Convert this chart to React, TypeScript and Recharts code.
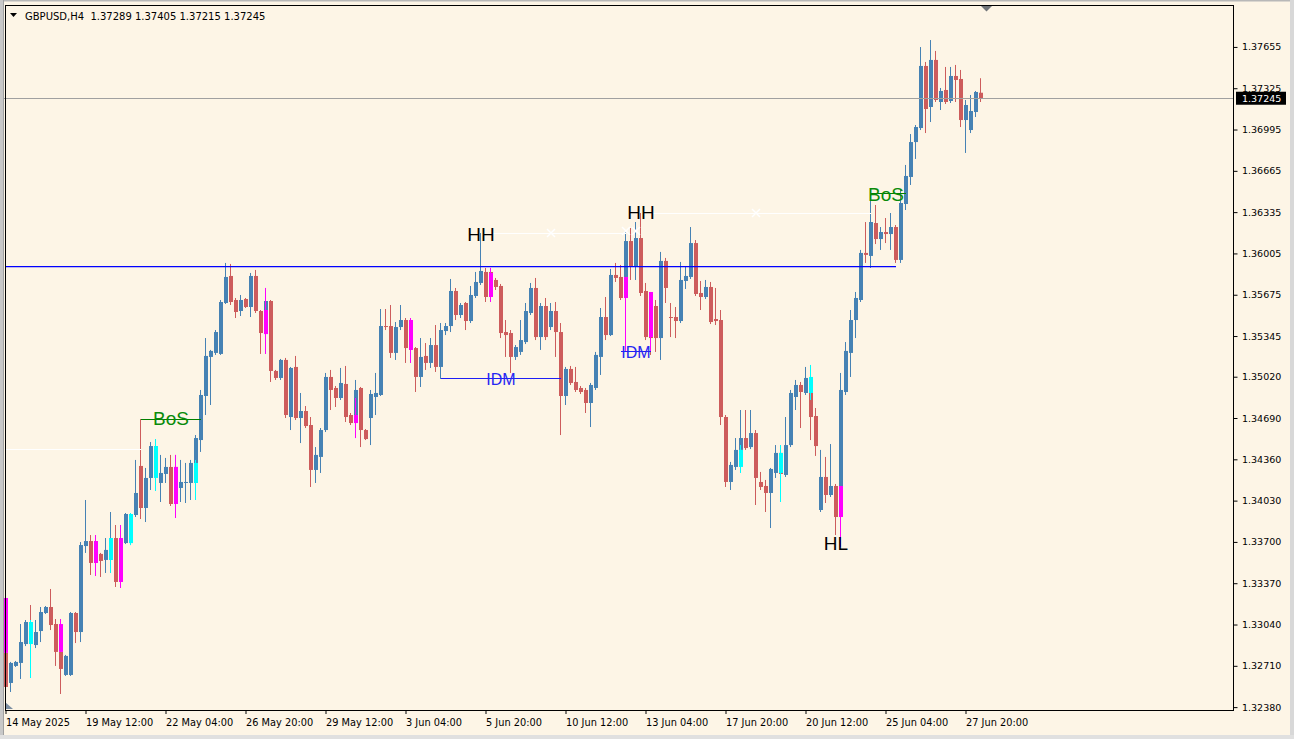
import React from 'react';
import { ComposedChart, Bar, XAxis, YAxis, ReferenceLine, ReferenceDot } from 'recharts';

const W = 1294;
const H = 739;
const BG = '#FDF5E6';
const BULL = '#4682B4';
const BEAR = '#CD5C5C';
const SUPPLY = '#FF00FF';
const DEMAND = '#00FFFF';
const FONT = '"DejaVu Sans", Verdana, sans-serif';
const TEXT_FONT = '"Liberation Sans", Arial, sans-serif';

const opens = [
  1.32813, 1.32573, 1.32709, 1.32733, 1.32884, 1.33036, 1.32876, 1.32988, 1.33132, 1.33180,
  1.33044, 1.32821, 1.32637, 1.32637, 1.33132, 1.32980, 1.33667, 1.33707, 1.33707, 1.33604,
  1.33556, 1.33556, 1.33731, 1.33731, 1.33691, 1.33691, 1.33915, 1.34307, 1.33971, 1.34211,
  1.34466, 1.34171, 1.34243, 1.34299, 1.34299, 1.34131, 1.34171, 1.34171, 1.34171, 1.34514,
  1.34866, 1.35178, 1.35210, 1.35202, 1.35609, 1.35825, 1.35633, 1.35545, 1.35641, 1.35577,
  1.35825, 1.35545, 1.35361, 1.35625, 1.35066, 1.35010, 1.35154, 1.34698, 1.35098, 1.34690,
  1.34746, 1.34634, 1.34275, 1.34379, 1.34594, 1.35018, 1.34930, 1.34850, 1.34962, 1.34714,
  1.34650, 1.34930, 1.34594, 1.34690, 1.34858, 1.34874, 1.35425, 1.35425, 1.35210, 1.35417,
  1.35473, 1.35473, 1.35249, 1.35018, 1.35186, 1.35130, 1.35273, 1.35098, 1.35385, 1.35425,
  1.35705, 1.35513, 1.35609, 1.35465, 1.35665, 1.35769, 1.35857, 1.35857, 1.35793, 1.35745,
  1.35377, 1.35369, 1.35178, 1.35218, 1.35297, 1.35529, 1.35729, 1.35337, 1.35585, 1.35417,
  1.35545, 1.35377, 1.34866, 1.35082, 1.34978, 1.34930, 1.34914, 1.34810, 1.34930, 1.35178,
  1.35497, 1.35353, 1.35833, 1.35817, 1.35817, 1.36104, 1.35897, 1.36128, 1.35705, 1.35577,
  1.35585, 1.35329, 1.35945, 1.35497, 1.35497, 1.35465, 1.35785, 1.35817, 1.36088, 1.35689,
  1.35657, 1.35737, 1.35481, 1.35473, 1.34698, 1.34179, 1.34299, 1.34435, 1.34530, 1.34458,
  1.34570, 1.34179, 1.34147, 1.34091, 1.34251, 1.34411, 1.34235, 1.34474, 1.34858, 1.34954,
  1.34890, 1.35010, 1.34706, 1.33955, 1.34219, 1.34075, 1.34147, 1.33915, 1.34898, 1.35210,
  1.35473, 1.35633, 1.36009, 1.35985, 1.36248, 1.36120, 1.36176, 1.36160, 1.36216, 1.35953,
  1.36400, 1.36616, 1.36895, 1.37007, 1.37503, 1.37175, 1.37551, 1.37215, 1.37311, 1.37223,
  1.37423, 1.37399, 1.37071, 1.36991, 1.37135, 1.37289,
];

const highs = [
  1.32836, 1.32741, 1.32749, 1.33044, 1.33076, 1.33196, 1.33076, 1.33180, 1.33188, 1.33324,
  1.33084, 1.32836, 1.32797, 1.33140, 1.33140, 1.33699, 1.34035, 1.33755, 1.33755, 1.33612,
  1.33731, 1.33939, 1.33835, 1.33835, 1.33931, 1.33931, 1.34355, 1.34682, 1.34291, 1.34498,
  1.34522, 1.34395, 1.34371, 1.34395, 1.34395, 1.34355, 1.34331, 1.34355, 1.34554, 1.34914,
  1.35329, 1.35234, 1.35393, 1.35633, 1.35929, 1.35921, 1.35649, 1.35673, 1.35649, 1.35849,
  1.35873, 1.35553, 1.35729, 1.35633, 1.35074, 1.35162, 1.35170, 1.35098, 1.35186, 1.34890,
  1.34786, 1.34698, 1.34458, 1.34610, 1.35050, 1.35074, 1.34946, 1.35090, 1.35106, 1.34730,
  1.34994, 1.34938, 1.34602, 1.34914, 1.35050, 1.35561, 1.35561, 1.35593, 1.35457, 1.35593,
  1.35489, 1.35489, 1.35257, 1.35329, 1.35289, 1.35329, 1.35433, 1.35449, 1.35449, 1.35801,
  1.35729, 1.35609, 1.35617, 1.35745, 1.35857, 1.36168, 1.35889, 1.35889, 1.35809, 1.35761,
  1.35473, 1.35393, 1.35273, 1.35473, 1.35609, 1.35769, 1.35809, 1.35609, 1.35649, 1.35609,
  1.35617, 1.35449, 1.35098, 1.35106, 1.35098, 1.34946, 1.34930, 1.34970, 1.35218, 1.35569,
  1.35657, 1.35881, 1.35929, 1.35913, 1.36176, 1.36208, 1.36256, 1.36328, 1.35769, 1.35633,
  1.35633, 1.36017, 1.35969, 1.35609, 1.35577, 1.35937, 1.35897, 1.36216, 1.36112, 1.35785,
  1.35793, 1.35777, 1.35729, 1.35553, 1.34714, 1.34339, 1.34530, 1.34754, 1.34754, 1.34754,
  1.34594, 1.34259, 1.34195, 1.34291, 1.34474, 1.34474, 1.34698, 1.34914, 1.34994, 1.34978,
  1.35098, 1.35098, 1.34770, 1.34435, 1.34379, 1.34482, 1.34163, 1.35050, 1.35297, 1.35553,
  1.35697, 1.36033, 1.36256, 1.36432, 1.36392, 1.36216, 1.36288, 1.36328, 1.36232, 1.36512,
  1.36712, 1.36959, 1.37031, 1.37654, 1.37535, 1.37710, 1.37623, 1.37327, 1.37495, 1.37495,
  1.37511, 1.37471, 1.37231, 1.37271, 1.37303, 1.37405,
];

const lows = [
  1.32517, 1.32501, 1.32701, 1.32605, 1.32868, 1.32613, 1.32852, 1.32900, 1.33124, 1.32996,
  1.32709, 1.32485, 1.32629, 1.32629, 1.32892, 1.32900, 1.33612, 1.33436, 1.33428, 1.33420,
  1.33452, 1.33452, 1.33340, 1.33332, 1.33683, 1.33675, 1.33899, 1.33883, 1.33859, 1.34115,
  1.34107, 1.34019, 1.34171, 1.33987, 1.33891, 1.34019, 1.34011, 1.34035, 1.34035, 1.34419,
  1.34714, 1.34794, 1.35194, 1.35194, 1.35601, 1.35593, 1.35489, 1.35505, 1.35569, 1.35497,
  1.35529, 1.35202, 1.35202, 1.34978, 1.34994, 1.34994, 1.34690, 1.34594, 1.34674, 1.34490,
  1.34610, 1.34139, 1.34171, 1.34251, 1.34578, 1.34754, 1.34778, 1.34834, 1.34658, 1.34634,
  1.34530, 1.34458, 1.34514, 1.34474, 1.34714, 1.34866, 1.35393, 1.35170, 1.35154, 1.35393,
  1.35130, 1.35130, 1.34898, 1.34938, 1.35074, 1.35090, 1.35058, 1.35002, 1.35353, 1.35377,
  1.35473, 1.35489, 1.35393, 1.35449, 1.35649, 1.35753, 1.35617, 1.35617, 1.35713, 1.35329,
  1.35178, 1.35050, 1.35154, 1.35194, 1.35281, 1.35513, 1.35313, 1.35234, 1.35313, 1.35393,
  1.35178, 1.34554, 1.34794, 1.34954, 1.34898, 1.34882, 1.34730, 1.34618, 1.34914, 1.35034,
  1.35313, 1.35345, 1.35777, 1.35633, 1.35801, 1.35793, 1.35793, 1.35665, 1.35313, 1.35194,
  1.35218, 1.35154, 1.35609, 1.35337, 1.35329, 1.35449, 1.35721, 1.35801, 1.35665, 1.35553,
  1.35641, 1.35441, 1.35433, 1.34634, 1.34139, 1.34115, 1.34275, 1.34419, 1.34435, 1.34442,
  1.33995, 1.34115, 1.33939, 1.33811, 1.34211, 1.34019, 1.34219, 1.34458, 1.34754, 1.34610,
  1.34874, 1.34514, 1.34387, 1.33939, 1.34011, 1.34059, 1.33755, 1.33875, 1.34874, 1.35018,
  1.35329, 1.35617, 1.35929, 1.35889, 1.36080, 1.36033, 1.36088, 1.36033, 1.35929, 1.35929,
  1.36352, 1.36552, 1.36760, 1.36991, 1.36967, 1.37055, 1.37215, 1.37151, 1.37199, 1.37207,
  1.37215, 1.37015, 1.36808, 1.36967, 1.37095, 1.37215,
];

const closes = [
  1.32541, 1.32733, 1.32741, 1.32900, 1.33060, 1.32916, 1.32980, 1.33140, 1.33180, 1.33036,
  1.32821, 1.32685, 1.32789, 1.33132, 1.32980, 1.33675, 1.33707, 1.33532, 1.33532, 1.33548,
  1.33636, 1.33731, 1.33380, 1.33380, 1.33923, 1.33923, 1.34091, 1.33971, 1.34211, 1.34466,
  1.34251, 1.34251, 1.34299, 1.34003, 1.34003, 1.34179, 1.34179, 1.34331, 1.34530, 1.34874,
  1.35186, 1.35226, 1.35377, 1.35617, 1.35817, 1.35617, 1.35537, 1.35633, 1.35577, 1.35825,
  1.35545, 1.35369, 1.35625, 1.35066, 1.35010, 1.35154, 1.34714, 1.35090, 1.34690, 1.34746,
  1.34626, 1.34275, 1.34395, 1.34594, 1.35018, 1.34914, 1.34850, 1.34970, 1.34698, 1.34650,
  1.34914, 1.34594, 1.34522, 1.34882, 1.34890, 1.35425, 1.35417, 1.35210, 1.35417, 1.35473,
  1.35249, 1.35234, 1.35018, 1.35178, 1.35130, 1.35273, 1.35098, 1.35393, 1.35425, 1.35705,
  1.35513, 1.35593, 1.35465, 1.35673, 1.35777, 1.35865, 1.35657, 1.35657, 1.35737, 1.35369,
  1.35353, 1.35178, 1.35257, 1.35313, 1.35545, 1.35729, 1.35337, 1.35585, 1.35337, 1.35545,
  1.35377, 1.34866, 1.35082, 1.34970, 1.34914, 1.34898, 1.34810, 1.34954, 1.35194, 1.35497,
  1.35353, 1.35833, 1.35809, 1.35649, 1.36104, 1.35897, 1.36128, 1.35689, 1.35337, 1.35329,
  1.35329, 1.35945, 1.35729, 1.35489, 1.35465, 1.35793, 1.35825, 1.36088, 1.35681, 1.35657,
  1.35737, 1.35457, 1.35465, 1.34698, 1.34179, 1.34315, 1.34435, 1.34530, 1.34450, 1.34570,
  1.34211, 1.34139, 1.34091, 1.34283, 1.34411, 1.34243, 1.34474, 1.34890, 1.34954, 1.34898,
  1.35010, 1.34698, 1.34466, 1.34219, 1.34075, 1.34147, 1.33899, 1.34914, 1.35226, 1.35473,
  1.35649, 1.36009, 1.35993, 1.36256, 1.36120, 1.36176, 1.36160, 1.36216, 1.35953, 1.36408,
  1.36624, 1.36895, 1.37015, 1.37503, 1.37159, 1.37551, 1.37231, 1.37303, 1.37215, 1.37423,
  1.37391, 1.37071, 1.37191, 1.37143, 1.37295, 1.37245,
];

// order-block highlight candles: bar index, kind, body top/bottom, wick high/low
const highlights = [
  { at: 0, kind: 'supply', top: 1.33252, bottom: 1.32813, hi: 1.33268, lo: 1.32813 },
  { at: 5, kind: 'demand', top: 1.33060, bottom: 1.32884, hi: 1.33076, lo: 1.32613 },
  { at: 11, kind: 'supply', top: 1.33044, bottom: 1.32821, hi: 1.33084, lo: 1.32821 },
  { at: 18, kind: 'supply', top: 1.33707, bottom: 1.33532, hi: 1.33755, lo: 1.33428 },
  { at: 21, kind: 'demand', top: 1.33731, bottom: 1.33556, hi: 1.33731, lo: 1.33452 },
  { at: 23, kind: 'supply', top: 1.33731, bottom: 1.33380, hi: 1.33835, lo: 1.33332 },
  { at: 25, kind: 'demand', top: 1.33923, bottom: 1.33691, hi: 1.33931, lo: 1.33675 },
  { at: 30, kind: 'demand', top: 1.34466, bottom: 1.34211, hi: 1.34522, lo: 1.34107 },
  { at: 34, kind: 'supply', top: 1.34299, bottom: 1.34003, hi: 1.34395, lo: 1.33891 },
  { at: 38, kind: 'demand', top: 1.34331, bottom: 1.34171, hi: 1.34355, lo: 1.34035 },
  { at: 52, kind: 'supply', top: 1.35553, bottom: 1.35361, hi: 1.35729, lo: 1.35202 },
  { at: 70, kind: 'supply', top: 1.34714, bottom: 1.34650, hi: 1.34850, lo: 1.34530 },
  { at: 81, kind: 'supply', top: 1.35473, bottom: 1.35234, hi: 1.35489, lo: 1.35130 },
  { at: 97, kind: 'supply', top: 1.35849, bottom: 1.35657, hi: 1.35889, lo: 1.35617 },
  { at: 124, kind: 'supply', top: 1.35817, bottom: 1.35649, hi: 1.35817, lo: 1.35218 },
  { at: 129, kind: 'supply', top: 1.35697, bottom: 1.35337, hi: 1.35697, lo: 1.35218 },
  { at: 147, kind: 'demand', top: 1.34435, bottom: 1.34299, hi: 1.34474, lo: 1.34251 },
  { at: 155, kind: 'demand', top: 1.34411, bottom: 1.34251, hi: 1.34474, lo: 1.34019 },
  { at: 161, kind: 'demand', top: 1.35018, bottom: 1.34890, hi: 1.35114, lo: 1.34834 },
  { at: 167, kind: 'supply', top: 1.34147, bottom: 1.33899, hi: 1.34147, lo: 1.33659 },
];

const dateTickIndex = [0, 16, 32, 48, 64, 80, 96, 112, 128, 144, 160, 176, 192];
const dateTickLabels = [
  '14 May 2025', '19 May 12:00', '22 May 04:00', '26 May 20:00', '29 May 12:00',
  '3 Jun 04:00', '5 Jun 20:00', '10 Jun 12:00', '13 Jun 04:00', '17 Jun 20:00',
  '20 Jun 12:00', '25 Jun 04:00', '27 Jun 20:00',
];
const priceTicks = [
  1.37655, 1.37325, 1.36995, 1.36665, 1.36335, 1.36005, 1.35675, 1.35345, 1.35020,
  1.34690, 1.34360, 1.34030, 1.33700, 1.33370, 1.33040, 1.32710, 1.32380,
];
const lastPrice = 1.37245;
const priceDomain = [1.32357, 1.3799];
const totalSlots = 246;

// structure lines: price level, from bar, to bar, kind
const levelLines = [
  { price: 1.35899, from: 0, to: 178, kind: 'range' },
  { price: 1.34442, from: 0, to: 27, kind: 'sweep' },
  { price: 1.36168, from: 97, to: 124, kind: 'sweep' },
  { price: 1.36328, from: 129, to: 173, kind: 'sweep' },
  { price: 1.34682, from: 27, to: 39, kind: 'bos' },
  { price: 1.36480, from: 173, to: 180, kind: 'bos' },
  { price: 1.35002, from: 87, to: 111, kind: 'idm' },
  { price: 1.35218, from: 123, to: 129, kind: 'idm' },
];
const lineStyles: Record<string, { color: string; width: number; crisp: boolean }> = {
  range: { color: '#0000FF', width: 1.2, crisp: false },
  sweep: { color: '#FFFFFF', width: 1, crisp: true },
  bos: { color: '#008000', width: 1, crisp: true },
  idm: { color: '#1E1EF5', width: 1, crisp: true },
};

const textMarks = [
  { text: 'HH', at: 95, price: 1.36160, kind: 'swing' },
  { text: 'HH', at: 127, price: 1.36336, kind: 'swing' },
  { text: 'HL', at: 166, price: 1.33690, kind: 'swing' },
  { text: 'BoS', at: 33, price: 1.34690, kind: 'bos' },
  { text: 'BoS', at: 176, price: 1.36480, kind: 'bos' },
  { text: 'IDM', at: 99, price: 1.35002, kind: 'idm' },
  { text: 'IDM', at: 126, price: 1.35218, kind: 'idm' },
];
const textStyles: Record<string, { color: string; size: number }> = {
  swing: { color: '#000000', size: 19 },
  bos: { color: '#0A8A0A', size: 19 },
  idm: { color: '#2626F2', size: 16 },
};

const sweepCrosses = [
  { at: 109, price: 1.36168 },
  { at: 124, price: 1.36184 },
  { at: 126, price: 1.36184 },
  { at: 150, price: 1.36328 },
];

const data = Array.from({ length: totalSlots }, (_, i) => {
  if (i >= opens.length) return { i };
  const hl = highlights.find((h) => h.at === i);
  return {
    i,
    o: opens[i],
    h: highs[i],
    l: lows[i],
    c: closes[i],
    range: [lows[i], highs[i]],
    hl,
  };
});

const Candle = (props: any) => {
  const { x, y, width, height, payload } = props;
  if (!payload || payload.h == null) return <g />;
  const y0 = Math.min(y, y + height);
  const y1 = Math.max(y, y + height);
  const span = payload.h - payload.l;
  const k = span > 0 ? (y1 - y0) / span : 0;
  const py = (p: number) => y0 + (payload.h - p) * k;
  const cx = Math.round(x + width / 2);
  const up = payload.c >= payload.o;
  const col = up ? BULL : BEAR;
  const bt = py(Math.max(payload.o, payload.c));
  const bb = py(Math.min(payload.o, payload.c));
  const hl = payload.hl;
  return (
    <g>
      <rect x={cx - 1} y={y0} width={1} height={Math.max(1, y1 - y0)} fill={col} />
      <rect x={cx - 2} y={bt} width={4} height={Math.max(1, bb - bt)} fill={col} />
      {hl ? (
        <g>
          <rect
            x={cx - 1}
            y={py(hl.hi)}
            width={1}
            height={Math.max(1, py(hl.lo) - py(hl.hi))}
            fill={hl.kind === 'supply' ? SUPPLY : DEMAND}
          />
          <rect
            x={cx - 2}
            y={py(hl.top)}
            width={4}
            height={Math.max(1, py(hl.bottom) - py(hl.top))}
            fill={hl.kind === 'supply' ? SUPPLY : DEMAND}
          />
        </g>
      ) : null}
    </g>
  );
};

const DateTick = (props: any) => {
  const { x, y, payload } = props;
  const idx = dateTickIndex.indexOf(payload.value);
  return (
    <text x={x} y={y} dy={9.5} textAnchor="start" fontFamily={FONT} fontSize={9.8} fill="#000">
      {idx >= 0 ? dateTickLabels[idx] : ''}
    </text>
  );
};

const PriceTick = (props: any) => {
  const { x, y, payload } = props;
  if (payload.value === lastPrice) {
    return (
      <g>
        <rect x={x - 4.5} y={y - 6.5} width={50} height={13} fill="#000" />
        <text x={x + 1.5} y={y} dy={3.5} fontFamily={FONT} fontSize={9.5} fill="#FFF">
          {payload.value.toFixed(5)}
        </text>
      </g>
    );
  }
  return (
    <g>
      <line x1={x - 7} x2={x - 3} y1={y + 0.5} y2={y + 0.5} stroke="#000" />
      <text x={x + 1.5} y={y} dy={3.5} fontFamily={FONT} fontSize={9.5} fill="#000">
        {payload.value.toFixed(5)}
      </text>
    </g>
  );
};

export default function App() {
  return (
    <div style={{ position: 'fixed', left: 0, top: 0, width: W, height: H, background: BG, overflow: 'hidden' }}>
      <ComposedChart
        width={W}
        height={H}
        data={data}
        margin={{ top: 5, right: 0, bottom: 0, left: 3.5 }}
        barCategoryGap={0}
        barGap={0}
      >
        <XAxis
          dataKey="i"
          type="category"
          ticks={dateTickIndex}
          interval={0}
          height={29}
          axisLine={false}
          tickLine={{ stroke: '#000' }}
          tickSize={4}
          tickMargin={2}
          tick={<DateTick />}
        />
        <YAxis
          orientation="right"
          type="number"
          domain={priceDomain}
          allowDataOverflow
          ticks={[...priceTicks, lastPrice]}
          interval={0}
          width={60.5}
          axisLine={false}
          tickLine={false}
          tickSize={4}
          tickMargin={3}
          tick={<PriceTick />}
        />
        <ReferenceLine y={lastPrice} stroke="#A0A0A0" strokeWidth={1} shapeRendering="crispEdges" />
        <Bar dataKey="range" shape={<Candle />} isAnimationActive={false} />
        {levelLines.map((ln, n) => (
          <ReferenceLine
            key={'ln' + n}
            segment={[{ x: ln.from, y: ln.price }, { x: ln.to, y: ln.price }]}
            stroke={lineStyles[ln.kind].color}
            strokeWidth={lineStyles[ln.kind].width}
            shapeRendering={lineStyles[ln.kind].crisp ? 'crispEdges' : 'auto'}
          />
        ))}
        {sweepCrosses.map((cr, n) => (
          <ReferenceDot
            key={'cr' + n}
            x={cr.at}
            y={cr.price}
            ifOverflow="visible"
            shape={(p: any) => (
              <g stroke="#FFFFFF" strokeWidth={1.4}>
                <line x1={p.cx - 4} y1={p.cy - 4} x2={p.cx + 4} y2={p.cy + 4} />
                <line x1={p.cx - 4} y1={p.cy + 4} x2={p.cx + 4} y2={p.cy - 4} />
              </g>
            )}
          />
        ))}
        {textMarks.map((tm, n) => (
          <ReferenceDot
            key={'tm' + n}
            x={tm.at}
            y={tm.price}
            ifOverflow="visible"
            shape={(p: any) => (
              <text
                x={p.cx}
                y={p.cy + textStyles[tm.kind].size * 0.36}
                textAnchor="middle"
                fontFamily={TEXT_FONT}
                fontSize={textStyles[tm.kind].size}
                fill={textStyles[tm.kind].color}
              >
                {tm.text}
              </text>
            )}
          />
        ))}
        <ReferenceDot
          x={196}
          y={priceDomain[1]}
          ifOverflow="visible"
          shape={(p: any) => (
            <polygon points={`${p.cx - 6},${p.cy} ${p.cx + 7},${p.cy} ${p.cx + 0.5},${p.cy + 6.5}`} fill="#707478" />
          )}
        />
        <ReferenceDot
          x={0}
          y={priceDomain[0]}
          ifOverflow="visible"
          shape={(p: any) => (
            <polygon points={`${p.cx - 1},${p.cy - 1} ${p.cx + 7},${p.cy - 1} ${p.cx - 1},${p.cy - 8}`} fill="#7D8FA3" />
          )}
        />
      </ComposedChart>
      <svg
        width={W}
        height={H}
        style={{ position: 'absolute', left: 0, top: 0, pointerEvents: 'none' }}
      >
        <rect x={5.5} y={5.5} width={1228} height={705} fill="none" stroke="#000" strokeWidth={1} />
        <rect x={0} y={0} width={W} height={1.5} fill="#B8B8B8" />
        <rect x={0} y={0} width={3} height={H} fill="#C8C8C8" />
        <rect x={3} y={0} width={1} height={H} fill="#A0A0A0" />
        <rect x={W - 4} y={0} width={4} height={H} fill="#D8D8D8" />
        <rect x={0} y={H - 4} width={W} height={4} fill="#E0E0E0" />
        <polygon points="10,13 17,13 13.5,17" fill="#000" />
        <text x={25} y={20} fontFamily={FONT} fontSize={10} fill="#000" style={{ whiteSpace: 'pre' }}>
          GBPUSD,H4  1.37289 1.37405 1.37215 1.37245
        </text>
      </svg>
    </div>
  );
}
